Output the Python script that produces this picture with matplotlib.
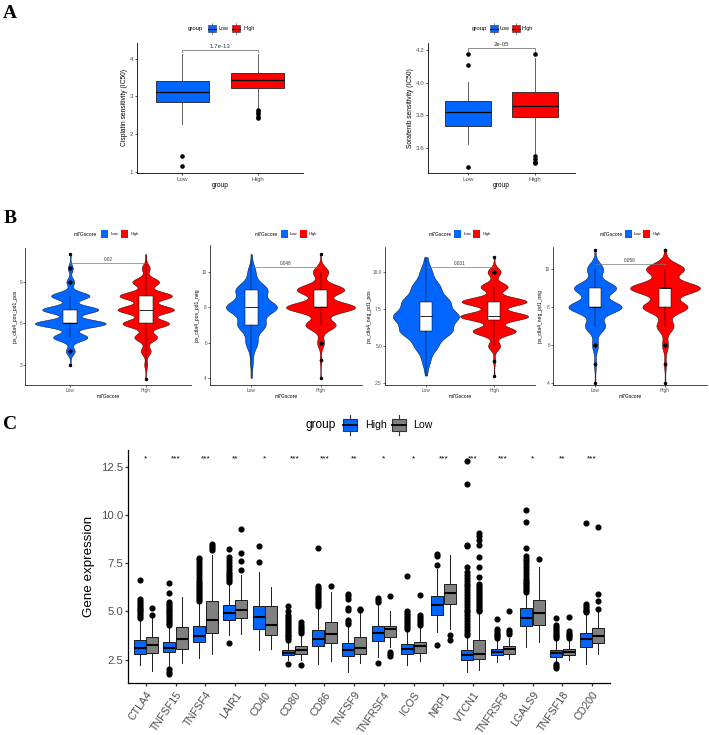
import numpy as np
import matplotlib
matplotlib.use('Agg')
import matplotlib.pyplot as plt
from matplotlib.patches import Rectangle
from matplotlib import cbook, mlab

plt.rcParams['font.family'] = ['Liberation Sans', 'DejaVu Sans']

W, H = 709, 735
BLUE = '#0066FF'
RED = '#FF0000'
GREY = '#808080'
TXT = '#4d4d4d'

# ---------------- panel A: drug sensitivity boxplots ----------------
a_groups = ['Low', 'High']
a_ylabels = ['Cisplatin sensitivity (IC50)', 'Sorafenib sensitivity (IC50)']
a_pvals = ['1.7e-13', '2e-05']
cis_q1 = [2.85, 3.23]
cis_med = [3.13, 3.43]
cis_q3 = [3.41, 3.63]
cis_lo = [2.28, 2.68]
cis_hi = [4.13, 4.13]
cis_fliers = [[1.43, 1.16], [2.63, 2.58, 2.53, 2.47, 2.42]]
sor_q1 = [3.737, 3.788]
sor_med = [3.818, 3.857]
sor_q3 = [3.888, 3.943]
sor_lo = [3.622, 3.571]
sor_hi = [4.002, 4.150]
sor_fliers = [[4.176, 4.112, 3.482], [4.176, 3.547, 3.530, 3.515, 3.505]]

# ---------------- panel B: IPS violins (counts per integer score) ----------------
score_levels = np.arange(2, 12)
b_ylabels = ['ips_ctla4_pos_pd1_pos', 'ips_ctla4_pos_pd1_neg',
             'ips_ctla4_neg_pd1_pos', 'ips_ctla4_neg_pd1_neg']
b_pvals = ['0.02', '0.048', '0.031', '0.056']
b_counts_low = [[0, 1, 9, 35, 72, 57, 39, 8, 5, 1],
                [0, 0, 1, 3, 12, 28, 52, 32, 8, 1],
                [0, 2, 8, 23, 52, 66, 47, 28, 12, 3],
                [0, 0, 1, 2, 6, 20, 53, 42, 16, 1]]
b_counts_high = [[1, 3, 10, 23, 47, 57, 53, 27, 8, 1],
                 [0, 0, 1, 2, 8, 35, 80, 55, 18, 1],
                 [0, 1, 2, 12, 43, 68, 65, 27, 13, 1],
                 [0, 0, 1, 2, 6, 17, 45, 70, 38, 2]]

# ---------------- panel C: immune checkpoint expression ----------------
genes = ['CTLA4', 'TNFSF15', 'TNFSF4', 'LAIR1', 'CD40', 'CD80', 'CD86', 'TNFSF9',
         'TNFRSF4', 'ICOS', 'NRP1', 'VTCN1', 'TNFRSF8', 'LGALS9', 'TNFSF18', 'CD200']
signif = ['*', '***', '***', '**', '*', '***', '***', '**',
          '*', '*', '***', '***', '***', '*', '**', '***']
hi_q1 = [2.81, 2.90, 3.40, 4.55, 4.08, 2.73, 3.19, 2.67, 3.47, 2.81, 4.81, 2.50, 2.73, 4.24, 2.64, 3.13]
hi_med = [3.11, 3.12, 3.72, 4.91, 4.72, 2.86, 3.59, 2.99, 3.89, 3.07, 5.31, 2.73, 2.90, 4.67, 2.85, 3.55]
hi_q3 = [3.51, 3.42, 4.24, 5.33, 5.30, 3.02, 4.06, 3.37, 4.24, 3.30, 5.80, 2.99, 3.07, 5.20, 2.99, 3.89]
hi_lo = [2.24, 2.15, 2.60, 3.77, 3.02, 2.50, 2.29, 1.86, 2.64, 2.20, 3.94, 1.86, 2.38, 3.13, 2.30, 2.29]
hi_hi = [4.55, 4.15, 5.45, 6.45, 7.07, 3.45, 5.15, 4.30, 5.40, 4.03, 7.19, 3.68, 3.51, 5.90, 3.51, 4.85]
hi_fliers = [
    [4.65, 4.75, 4.85, 4.95, 5.05, 5.15, 5.25, 5.35, 5.45, 5.55, 5.65, 6.61],
    [1.76, 1.87, 2.0, 4.3, 4.4, 4.5, 4.6, 4.7, 4.8, 4.9, 5.0, 5.1, 5.2, 5.3, 5.4, 5.5, 5.97, 6.5],
    [5.55, 5.65, 5.75, 5.85, 5.95, 6.05, 6.15, 6.25, 6.35, 6.5, 6.6, 6.75, 6.9, 7.05, 7.2, 7.35, 7.5, 7.65, 7.8],
    [3.35, 6.55, 6.65, 6.75, 6.85, 6.95, 7.05, 7.2, 7.35, 7.5, 7.65, 7.85, 8.22],
    [7.55, 8.4],
    [2.26, 3.5, 3.6, 3.7, 3.8, 3.9, 4.0, 4.1, 4.2, 4.3, 4.4, 4.5, 4.6, 4.7, 4.8, 5.03, 5.3],
    [5.3, 5.4, 5.5, 5.6, 5.7, 5.8, 5.9, 6.0, 6.1, 6.2, 6.3, 8.28],
    [4.34, 4.46, 4.58, 5.07, 5.2, 5.66, 5.8, 5.9],
    [2.33, 5.5, 5.6, 5.68],
    [4.1, 4.2, 4.3, 4.4, 4.5, 4.6, 4.7, 4.8, 4.9, 5.0, 6.86],
    [3.25, 7.43, 7.88, 7.99],
    [3.75, 3.9, 4.05, 4.2, 4.35, 4.5, 4.65, 4.8, 4.95, 5.1, 5.25, 5.4, 5.55, 5.7, 5.85, 6.0,
     6.15, 6.3, 6.45, 6.6, 6.75, 6.9, 7.05, 7.3, 8.4, 8.45, 11.6, 12.83],
    [3.6, 3.7, 3.8, 3.9, 4.0, 4.1, 4.62],
    [6.0, 6.1, 6.2, 6.3, 6.4, 6.5, 6.6, 6.7, 6.85, 7.0, 7.15, 7.3, 7.45, 7.6, 7.75, 7.9, 8.28, 9.67, 10.28],
    [2.06, 2.16, 2.26, 3.6, 3.7, 3.8, 3.9, 4.0, 4.1, 4.2, 4.3, 4.68],
    [4.95, 5.0, 5.1, 5.2, 5.3, 5.4, 9.61],
]
lo_q1 = [2.86, 3.07, 3.89, 4.64, 3.77, 2.78, 3.37, 2.81, 3.68, 2.86, 5.36, 2.55, 2.81, 4.29, 2.73, 3.34]
lo_med = [3.25, 3.56, 4.55, 5.10, 4.29, 2.99, 3.82, 3.11, 4.08, 3.21, 5.94, 2.81, 3.04, 4.90, 2.90, 3.72]
lo_q3 = [3.65, 4.17, 5.54, 5.59, 5.30, 3.21, 4.46, 3.68, 4.25, 3.42, 6.41, 3.51, 3.20, 5.59, 3.07, 4.12]
lo_lo = [1.91, 2.34, 2.78, 3.85, 3.07, 2.50, 2.41, 2.33, 3.16, 2.43, 4.11, 1.94, 2.55, 3.42, 2.47, 2.81]
lo_hi = [4.70, 5.76, 7.93, 6.90, 6.28, 3.85, 6.02, 4.95, 5.03, 4.20, 7.93, 4.90, 3.60, 7.30, 3.51, 5.00]
lo_fliers = [
    [4.84, 5.19],
    [],
    [8.18, 8.3, 8.4, 8.5],
    [7.15, 7.6, 8.05, 9.28],
    [],
    [2.2, 3.9, 4.0, 4.1, 4.2, 4.3, 4.45],
    [6.34],
    [5.05, 5.12],
    [2.67, 2.78, 2.9, 5.82],
    [4.3, 4.4, 4.5, 4.6, 4.7, 4.8, 5.84],
    [3.5, 3.77],
    [5.0, 5.1, 5.2, 5.3, 5.4, 5.5, 5.6, 5.7, 5.8, 5.9, 6.0, 6.1, 6.2, 6.3, 6.4, 6.8, 7.3,
     7.85, 8.45, 8.7, 8.9, 9.06],
    [3.85, 3.95, 4.05, 5.02],
    [7.71],
    [3.6, 3.7, 3.8, 3.9, 4.0, 4.71],
    [5.15, 5.54, 5.89, 9.38],
]


def make_stats(q1, med, q3, lo, hi, fliers):
    return [dict(q1=a, med=b, q3=c, whislo=d, whishi=e, fliers=np.array(f))
            for a, b, c, d, e, f in zip(q1, med, q3, lo, hi, fliers)]


fig = plt.figure(figsize=(W / 100, H / 100), dpi=100)
fig.patch.set_facecolor('white')


def px_axes(l, t, r, b):
    return fig.add_axes([l / W, 1 - b / H, (r - l) / W, (b - t) / H])


def classic(ax, fs, lw, tl):
    ax.spines['top'].set_visible(False)
    ax.spines['right'].set_visible(False)
    for s in ('left', 'bottom'):
        ax.spines[s].set_linewidth(lw)
    ax.tick_params(labelsize=fs, width=lw, length=tl, pad=1.0,
                   color='#333333', labelcolor=TXT)
    ax.set_facecolor('none')


# ---------------- panel A ----------------
a_rects = [(137, 43, 303, 173), (428, 43, 575, 173)]
a_ylims = [(0.98, 4.41), (3.445, 4.245)]
a_yticks = [[1, 2, 3, 4], [3.6, 3.8, 4.0, 4.2]]
a_yticklabels = [['1', '2', '3', '4'], ['3.6', '3.8', '4.0', '4.2']]
a_brk = [(4.23, 0.06), (4.214, 0.02)]
a_stats = [make_stats(cis_q1, cis_med, cis_q3, cis_lo, cis_hi, cis_fliers),
           make_stats(sor_q1, sor_med, sor_q3, sor_lo, sor_hi, sor_fliers)]

for i in range(2):
    ax = px_axes(*a_rects[i])
    classic(ax, 4.5, 0.6, 1.6)
    res = ax.bxp(a_stats[i], positions=[1, 2], widths=0.7, patch_artist=True,
                 showcaps=False,
                 boxprops=dict(edgecolor='#222222', linewidth=0.6),
                 whiskerprops=dict(color='#444444', linewidth=0.6),
                 medianprops=dict(color='black', linewidth=0.9),
                 flierprops=dict(marker='o', markersize=2.3, markerfacecolor='black',
                                 markeredgecolor='black'))
    for box, c in zip(res['boxes'], [BLUE, RED]):
        box.set_facecolor(c)
    ax.set_xlim(0.4, 2.6)
    ax.set_ylim(*a_ylims[i])
    ax.set_xticks([1, 2])
    ax.set_xticklabels(a_groups)
    ax.set_yticks(a_yticks[i])
    ax.set_yticklabels(a_yticklabels[i])
    ax.set_xlabel('group', fontsize=4.8, labelpad=0.5)
    ax.set_ylabel(a_ylabels[i], fontsize=4.8, labelpad=1.5)
    by, dy = a_brk[i]
    ax.plot([1, 1, 2, 2], [by - dy, by, by, by - dy], color='#777777', lw=0.6)
    ax.text(1.5, by + (a_ylims[i][1] - a_ylims[i][0]) * 0.008, a_pvals[i],
            ha='center', va='bottom', fontsize=4.4, color='#333333')

# ---------------- panel B ----------------
b_rects = [(25, 248, 191, 385), (210, 245, 362, 385), (385, 247, 535, 385), (553, 247, 707, 385)]
b_ylims = [(1.55, 11.46), (3.6, 11.53), (2.36, 11.69), (3.9, 11.16)]
b_yticks = [[3, 6, 9], [4, 6, 8, 10], [2.5, 5.0, 7.5, 10.0], [4, 6, 8, 10]]
b_yticklabels = [['3', '6', '9'], ['4', '6', '8', '10'],
                 ['2.5', '5.0', '7.5', '10.0'], ['4', '6', '8', '10']]
b_widths = [[0.94, 0.75], [0.74, 1.0], [0.97, 1.0], [0.76, 1.0]]
b_bw = [[0.27, 0.29], [0.38, 0.29], [0.45, 0.28], [0.32, 0.31]]
b_brk = [10.4, 10.28, 10.34, 10.26]

for i in range(4):
    ax = px_axes(*b_rects[i])
    classic(ax, 3.4, 0.5, 1.2)
    for j, (counts, col) in enumerate([(b_counts_low[i], BLUE), (b_counts_high[i], RED)]):
        pos = j + 1
        data = np.repeat(score_levels, counts).astype(float)
        kde = mlab.GaussianKDE(data, bw_method=b_bw[i][j] / data.std(ddof=1))
        grid = np.linspace(data.min(), data.max(), 500)
        dens = kde.evaluate(grid)
        half = dens / dens.max() * b_widths[i][j] / 2
        ax.fill_betweenx(grid, pos - half, pos + half, facecolor=col,
                         edgecolor='black', linewidth=0.3, zorder=1)
        st = cbook.boxplot_stats(data, whis=1.5)
        ax.bxp(st, positions=[pos], widths=0.18, patch_artist=True, showcaps=False,
               boxprops=dict(facecolor='white', edgecolor='black', linewidth=0.35),
               whiskerprops=dict(color='black', linewidth=0.35),
               medianprops=dict(color='black', linewidth=0.6),
               flierprops=dict(marker='o', markersize=1.5, markerfacecolor='black',
                               markeredgecolor='black'),
               zorder=2)
    ax.set_xlim(0.4, 2.6)
    ax.set_ylim(*b_ylims[i])
    ax.set_xticks([1, 2])
    ax.set_xticklabels(['Low', 'High'])
    ax.set_yticks(b_yticks[i])
    ax.set_yticklabels(b_yticklabels[i])
    ax.set_xlabel('m7Gscore', fontsize=3.6, labelpad=0.8)
    ax.set_ylabel(b_ylabels[i], fontsize=3.6, labelpad=1.2)
    ax.plot([1, 2], [b_brk[i], b_brk[i]], color='#777777', lw=0.5)
    ax.text(1.5, b_brk[i] + 0.06, b_pvals[i], ha='center', va='bottom',
            fontsize=3.4, color='#333333')

# ---------------- panel C ----------------
axc = px_axes(128, 450, 610, 683)
classic(axc, 8.2, 0.9, 2.4)
xs = np.arange(1, len(genes) + 1)
common = dict(widths=0.40, patch_artist=True, showcaps=False,
              boxprops=dict(edgecolor='#1a1a1a', linewidth=0.7),
              whiskerprops=dict(color='#1a1a1a', linewidth=0.7),
              medianprops=dict(color='black', linewidth=1.5),
              flierprops=dict(marker='o', markersize=3.4, markerfacecolor='black',
                              markeredgecolor='black'))
r1 = axc.bxp(make_stats(hi_q1, hi_med, hi_q3, hi_lo, hi_hi, hi_fliers), positions=xs - 0.21, **common)
r2 = axc.bxp(make_stats(lo_q1, lo_med, lo_q3, lo_lo, lo_hi, lo_fliers), positions=xs + 0.21, **common)
for b in r1['boxes']:
    b.set_facecolor(BLUE)
for b in r2['boxes']:
    b.set_facecolor(GREY)
for x, s in zip(xs, signif):
    axc.text(x, 12.85, s, ha='center', va='baseline', fontsize=6, color='black')
axc.set_xlim(0.4, 16.6)
axc.set_ylim(1.28, 13.39)
axc.set_yticks([2.5, 5.0, 7.5, 10.0, 12.5])
axc.set_yticklabels(['2.5', '5.0', '7.5', '10.0', '12.5'])
axc.set_xticks(xs)
axc.set_xticklabels(genes, rotation=55, ha='right', rotation_mode='anchor', fontsize=7.7)
axc.tick_params(axis='x', pad=2.5)
axc.set_ylabel('Gene expression', fontsize=9.6, labelpad=4)

# ---------------- overlay: panel letters and legends ----------------
ov = fig.add_axes([0, 0, 1, 1], zorder=10)
ov.set_xlim(0, W)
ov.set_ylim(H, 0)
ov.axis('off')

for lab, x, y in [('A', 3, 18), ('B', 4, 223), ('C', 3, 429)]:
    ov.text(x, y, lab, fontsize=14, fontweight='bold', family='Liberation Serif',
            va='baseline', ha='left')


def key(x, y, w, h, color, glyph, lw):
    if glyph:
        ov.plot([x + w / 2, x + w / 2], [y - h / 2 - h * 0.3, y + h / 2 + h * 0.3],
                color='#333333', lw=lw, zorder=1)
    ov.add_patch(Rectangle((x, y - h / 2), w, h, facecolor=color,
                           edgecolor='#333333' if glyph else 'none', lw=lw, zorder=2))
    if glyph:
        ov.plot([x, x + w], [y, y], color='black', lw=lw * 1.6, zorder=3)


def legend(title, tx, keys_x, text_x, labels, colors, y, w, h, fs_t, fs_l, glyph, lw):
    ov.text(tx, y, title, fontsize=fs_t, va='center', ha='left', color='black')
    for kx, lx, lab, c in zip(keys_x, text_x, labels, colors):
        key(kx, y, w, h, c, glyph, lw)
        ov.text(lx, y, lab, fontsize=fs_l, va='center', ha='left', color='black')


legend('group', 188, [208, 232], [218.5, 243], a_groups, [BLUE, RED], 28.5, 8, 7, 4.3, 3.9, True, 0.4)
legend('group', 472, [490, 512], [499, 522], a_groups, [BLUE, RED], 28.5, 7.5, 7, 4.3, 3.9, True, 0.4)
for tx, k1, k2, l1, l2 in [(74, 101, 121, 111, 131), (255, 281, 300, 290, 309),
                           (429, 454, 473, 464, 483), (600, 625, 643, 634, 653)]:
    legend('m7Gscore', tx, [k1, k2], [l1, l2], ['Low', 'High'], [BLUE, RED],
           234, 6.5, 7.5, 3.6, 3.0, False, 0.3)
legend('group', 306, [343, 392], [365, 413], ['High', 'Low'], [BLUE, GREY],
       425, 14, 12, 8.6, 7.6, True, 0.8)

fig.savefig('out.png', dpi=100, facecolor='white')
